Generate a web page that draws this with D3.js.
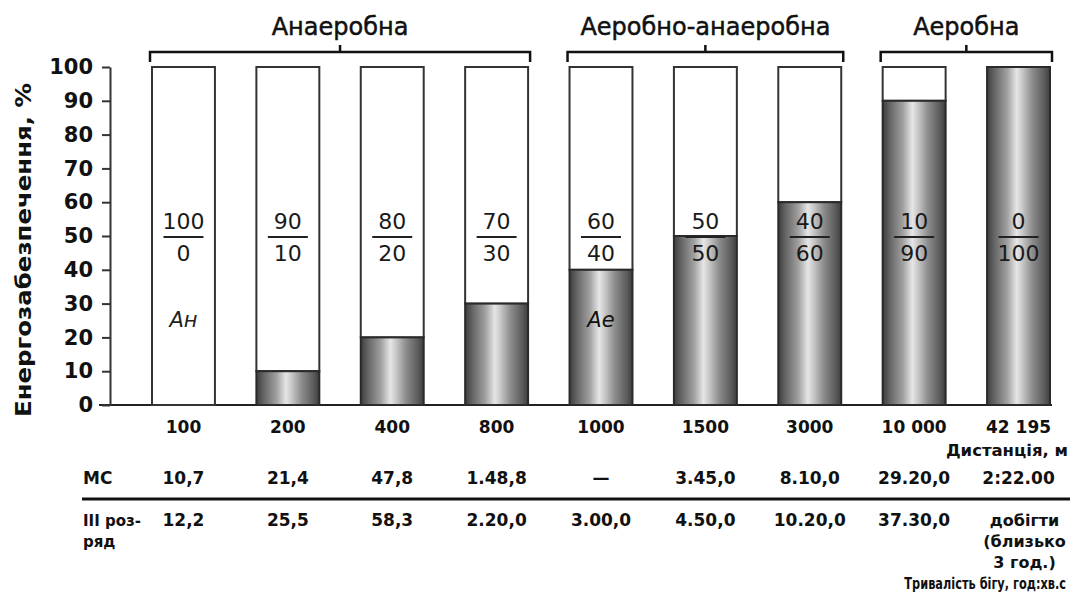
<!DOCTYPE html>
<html><head><meta charset="utf-8">
<script src="https://cdn.jsdelivr.net/npm/d3@7"></script>
<style>
html,body{margin:0;padding:0;background:#fff;}
svg{display:block;font-family:"DejaVu Sans",sans-serif;}
</style></head>
<body>
<script>
// ---- data ----
const categories = ["100","200","400","800","1000","1500","3000","10 000","42 195"];
const aerobic = [0,10,20,30,40,50,60,90,100];
const anaerobic = [100,90,80,70,60,50,40,10,0];
const yTicks = [0,10,20,30,40,50,60,70,80,90,100];
const groupNames = ["Анаеробна","Аеробно-анаеробна","Аеробна"];
const groupFirst = [0,4,7];
const groupLast = [3,6,8];
const msTimes = ["10,7","21,4","47,8","1.48,8","—","3.45,0","8.10,0","29.20,0","2:22.00"];
const thirdTimes = [["12,2"],["25,5"],["58,3"],["2.20,0"],["3.00,0"],["4.50,0"],["10.20,0"],["37.30,0"],["добігти","(близько","3 год.)"]];
const yTitle = "Енергозабезпечення, %";
const xTitle = "Дистанція, м";
const timeTitle = "Тривалість бігу, год:хв.с";
const rowMS = "МС";
const rowThird = ["III роз-","ряд"];
const anLabel = "Ан", aeLabel = "Ае";

// ---- setup ----
const W = 1073, H = 599;
const svg = d3.select("body").append("svg").attr("width",W).attr("height",H);
const defs = svg.append("defs");
const grad = defs.append("linearGradient").attr("id","cyl").attr("x1","0%").attr("x2","100%").attr("y1","0%").attr("y2","0%");
[[0,"#3e3e3e"],[0.12,"#666"],[0.32,"#a0a0a0"],[0.47,"#e6e6e6"],[0.56,"#c8c8c8"],[0.72,"#8c8c8c"],[0.9,"#5e5e5e"],[1,"#3e3e3e"]]
  .forEach(([o,c])=>grad.append("stop").attr("offset",o).attr("stop-color",c));

const x = d3.scaleBand().domain(categories).range([152,1050]).paddingInner(0.397).paddingOuter(0);
const y = d3.scaleLinear().domain([0,100]).range([405,67]);
const bw = x.bandwidth();
const cx = c => x(c) + bw/2;

// baseline
svg.append("line").attr("x1",99).attr("x2",1052).attr("y1",y(0)).attr("y2",y(0))
  .attr("stroke","#222").attr("stroke-width",2.2);

// y axis
const ax = svg.append("g").attr("transform","translate(110,0)")
  .call(d3.axisLeft(y).tickValues(yTicks).tickSize(8).tickSizeOuter(0).tickPadding(9));
ax.select(".domain").attr("stroke","#333").attr("stroke-width",2);
ax.selectAll(".tick line").attr("stroke","#333").attr("stroke-width",2);
ax.selectAll(".tick text").attr("font-family","DejaVu Sans").attr("font-weight","bold")
  .attr("font-size",21).attr("fill","#111");

// y title
svg.append("text").attr("transform",`translate(31,250) rotate(-90)`)
  .attr("text-anchor","middle").attr("font-size",21).attr("font-weight","bold")
  .attr("textLength",334).attr("lengthAdjust","spacingAndGlyphs").attr("fill","#111").text(yTitle);

// bars
const bars = svg.append("g");
categories.forEach((c,i)=>{
  bars.append("rect").attr("x",x(c)).attr("width",bw)
    .attr("y",y(100)).attr("height",y(aerobic[i]) - y(100))
    .attr("fill","#fff").attr("stroke","#333").attr("stroke-width",2);
  if (aerobic[i] > 0) {
    bars.append("rect").attr("x",x(c)).attr("width",bw)
      .attr("y",y(aerobic[i])).attr("height",y(0)-y(aerobic[i]))
      .attr("fill","url(#cyl)").attr("stroke","#2a2a2a").attr("stroke-width",2);
  }
  const g = bars.append("g").attr("font-size",22).attr("fill","#1a1a1a").attr("text-anchor","middle");
  g.append("text").attr("x",cx(c)).attr("y",y(50)-7).text(anaerobic[i]);
  g.append("line").attr("x1",cx(c)-20).attr("x2",cx(c)+20).attr("y1",y(50)+1).attr("y2",y(50)+1)
    .attr("stroke","#222").attr("stroke-width",2);
  g.append("text").attr("x",cx(c)).attr("y",y(50)+25).text(aerobic[i]);
});
bars.append("text").attr("x",cx(categories[0])).attr("y",y(23)).attr("text-anchor","middle")
  .attr("font-size",21).attr("font-style","italic").attr("fill","#222").text(anLabel);
bars.append("text").attr("x",cx(categories[4])).attr("y",y(23)).attr("text-anchor","middle")
  .attr("font-size",21).attr("font-style","italic").attr("fill","#111").text(aeLabel);

// group brackets
groupNames.forEach((n,k)=>{
  const x0 = x(categories[groupFirst[k]]) - 2, x1 = x(categories[groupLast[k]]) + bw + 2;
  const m = (x0+x1)/2;
  svg.append("path").attr("d",`M${x0},62 V52 H${x1} V62 M${m},52 V45`)
    .attr("fill","none").attr("stroke","#111").attr("stroke-width",2.5);
  svg.append("text").attr("x",m).attr("y",35).attr("text-anchor","middle")
    .attr("font-size",24).attr("fill","#111").attr("stroke","#111").attr("stroke-width",0.5).text(n);
});

// x labels and table
const bot = svg.append("g").attr("font-weight","bold").attr("font-size",17).attr("fill","#111");
categories.forEach((c,i)=>{
  bot.append("text").attr("x",cx(c)).attr("y",433).attr("text-anchor","middle").text(c);
  bot.append("text").attr("x",cx(c)).attr("y",484).attr("text-anchor","middle").text(msTimes[i]);
  thirdTimes[i].forEach((t,j)=>{
    bot.append("text").attr("x",cx(c)+(thirdTimes[i].length>1?6:0)).attr("y",526+j*21)
      .attr("text-anchor","middle").attr("font-size",thirdTimes[i].length>1?16:17).text(t);
  });
});
bot.append("text").attr("transform","translate(1068,456) scale(1.0,1)").attr("text-anchor","end")
  .attr("font-size",16.5).text(xTitle);
bot.append("text").attr("transform","translate(1066,589) scale(0.71,1)").attr("text-anchor","end")
  .attr("font-size",16).text(timeTitle);
bot.append("text").attr("x",83).attr("y",484).text(rowMS);
rowThird.forEach((t,j)=>bot.append("text").attr("x",83).attr("y",526+j*21)
  .attr("font-size",15).text(t));
svg.append("line").attr("x1",82).attr("x2",1070).attr("y1",499).attr("y2",499)
  .attr("stroke","#111").attr("stroke-width",3);
</script>
</body></html>
